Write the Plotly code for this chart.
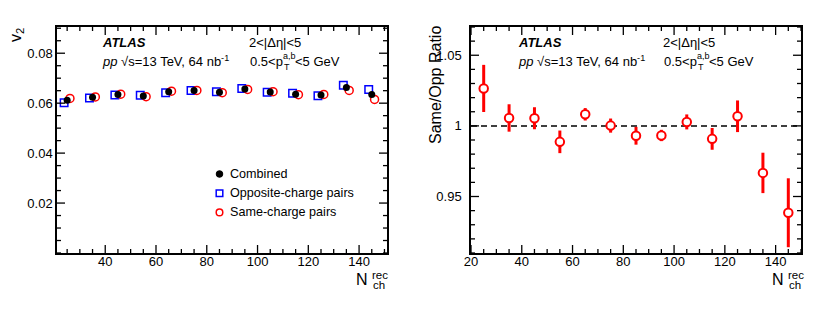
import plotly.graph_objects as go

# ---------------- data ----------------
nch = [25, 35, 45, 55, 65, 75, 85, 95, 105, 115, 125, 135, 145]
v2_combined = [0.0612, 0.0624, 0.0635, 0.0629, 0.0646, 0.0651, 0.0644, 0.0657, 0.0645, 0.0636, 0.0633, 0.0663, 0.0635]
v2_opposite = [0.0602, 0.0621, 0.0633, 0.0632, 0.0642, 0.0651, 0.0646, 0.0659, 0.0644, 0.0640, 0.0630, 0.0672, 0.0655]
v2_same = [0.0619, 0.0625, 0.0636, 0.0626, 0.0648, 0.0651, 0.0642, 0.0655, 0.0646, 0.0634, 0.0635, 0.0651, 0.0615]
ratio = [1.0265, 1.0056, 1.0054, 0.9887, 1.0082, 1.0002, 0.9930, 0.9932, 1.0028, 0.9908, 1.0068, 0.9667, 0.9385]
ratio_err = [0.0167, 0.0097, 0.0078, 0.0080, 0.0044, 0.0050, 0.0063, 0.0040, 0.0053, 0.0077, 0.0112, 0.0143, 0.0244]
ratio_ref = 1.0
left_yticks = [0.02, 0.04, 0.06, 0.08]
right_yticks = [0.95, 1.0, 1.05]
right_yticktext = ["0.95", "1", "1.05"]
legend_labels = ["Combined", "Opposite-charge pairs", "Same-charge pairs"]

# axis ranges and tick steps
LX_RANGE, LY_RANGE = [21, 151], [0, 0.0905]
RX_RANGE, RY_RANGE = [20, 150], [0.91, 1.07]
X_MAJOR, X_MINOR = 20, 5
LY_MINOR, RY_MINOR = 0.005, 0.01

# display offsets of the three series inside each bin
OFF_OPP, OFF_SAME = -1.2, 1.1

FONT = "Liberation Sans, Arial, Helvetica, sans-serif"
W, H = 830, 312
L, R, T, B = 57, 801, 27, 253
PANEL_W, PANEL_H = 330, B - T


def px(x):
    return (x - L) / (R - L)


def py(y):
    return (B - y) / (B - T)


def tick_values(lo, hi, step):
    vals = []
    k = int(lo // step)
    while k * step <= hi + 1e-12:
        v = round(k * step, 6)
        if lo - 1e-12 <= v <= hi + 1e-12:
            vals.append(v)
        k += 1
    return vals


fig = go.Figure()

fig.add_shape(type="line", xref="x2 domain", x0=0, x1=1, yref="y2", y0=ratio_ref, y1=ratio_ref,
              line=dict(color="black", width=1.5, dash="6px,4px"), layer="below")

fig.add_trace(go.Scatter(
    x=[n + OFF_OPP for n in nch], y=v2_opposite, mode="markers",
    marker=dict(symbol="square-open", size=7.5, color="#0000ff", line=dict(width=1.5, color="#0000ff")),
    xaxis="x", yaxis="y", showlegend=False))
fig.add_trace(go.Scatter(
    x=[n + OFF_SAME for n in nch], y=v2_same, mode="markers",
    marker=dict(symbol="circle-open", size=8, color="#ff0000", line=dict(width=1.5, color="#ff0000")),
    xaxis="x", yaxis="y", showlegend=False))
fig.add_trace(go.Scatter(
    x=nch, y=v2_combined, mode="markers",
    marker=dict(symbol="circle", size=7, color="black"),
    xaxis="x", yaxis="y", showlegend=False))

fig.add_trace(go.Scatter(
    x=nch, y=ratio, mode="markers",
    error_y=dict(type="data", array=ratio_err, visible=True, color="#ff0000", thickness=3, width=0),
    marker=dict(symbol="circle", size=8.5, color="white", line=dict(width=2, color="#ff0000")),
    xaxis="x2", yaxis="y2", showlegend=False))

# ---- ROOT-style inside ticks on all four sides, as line traces on each panel's axes ----
TICK_MAJ, TICK_MIN = 8, 4


def tick_trace(xa, ya, xr, yr, x_major, x_minor, y_majors, y_minor):
    xpp = (xr[1] - xr[0]) / PANEL_W   # data units per pixel
    ypp = (yr[1] - yr[0]) / PANEL_H
    xs, ys = [], []
    for v in tick_values(xr[0], xr[1], x_minor):
        ln = TICK_MAJ if abs(v / x_major - round(v / x_major)) < 1e-9 else TICK_MIN
        xs += [v, v, None, v, v, None]
        ys += [yr[0], yr[0] + ln * ypp, None, yr[1], yr[1] - ln * ypp, None]
    for v in tick_values(yr[0], yr[1], y_minor):
        ln = TICK_MAJ if any(abs(v - m) < 1e-9 for m in y_majors) else TICK_MIN
        xs += [xr[0], xr[0] + ln * xpp, None, xr[1], xr[1] - ln * xpp, None]
        ys += [v, v, None, v, v, None]
    fig.add_trace(go.Scatter(x=xs, y=ys, mode="lines", line=dict(color="black", width=1.3),
                             xaxis=xa, yaxis=ya, showlegend=False, hoverinfo="skip"))


tick_trace("x", "y", LX_RANGE, LY_RANGE, X_MAJOR, X_MINOR, left_yticks, LY_MINOR)
tick_trace("x2", "y2", RX_RANGE, RY_RANGE, X_MAJOR, X_MINOR, right_yticks, RY_MINOR)

axis_common = dict(
    showgrid=False, zeroline=False, showline=True, linecolor="black", linewidth=1.5,
    mirror=True, ticks="", tickfont=dict(family=FONT, size=13, color="black"), automargin=False,
)

L_dom = [0, (387 - L) / (R - L)]
R_dom = [(471 - L) / (R - L), 1]

fig.update_layout(
    template="none",
    width=W, height=H,
    margin=dict(l=L, r=W - R, t=T, b=H - B, pad=0),
    paper_bgcolor="white", plot_bgcolor="white",
    font=dict(family=FONT, color="black"),
    xaxis=dict(domain=L_dom, range=LX_RANGE, anchor="y", tickmode="linear", tick0=0, dtick=X_MAJOR,
               ticklabelstandoff=-4, **axis_common),
    yaxis=dict(domain=[0, 1], range=LY_RANGE, anchor="x", tickmode="array", tickvals=left_yticks,
               ticktext=[f"{v:.2f}" for v in left_yticks], **axis_common),
    xaxis2=dict(domain=R_dom, range=RX_RANGE, anchor="y2", tickmode="linear", tick0=0, dtick=X_MAJOR,
                ticklabelstandoff=-4, **axis_common),
    yaxis2=dict(domain=[0, 1], range=RY_RANGE, anchor="x2", tickmode="array", tickvals=right_yticks,
                ticktext=right_yticktext, ticklabelstandoff=5, **axis_common),
)

anns = []


def ann(text, x, y, size=13, xanchor="left", angle=0):
    anns.append(dict(text=text, x=px(x), y=py(y), xref="paper", yref="paper",
                     xanchor=xanchor, yanchor="middle", showarrow=False, textangle=angle,
                     font=dict(family=FONT, size=size, color="black")))


for x0 in (L, 471):
    dl = x0 - L + (2 if x0 != L else 0)   # left-block offset
    dr = x0 - L                           # right-block offset
    ann("<b><i>ATLAS</i></b>", 100 + dl, 42.7)
    ann("<i>pp</i> √s=13 TeV, 64 nb<sup>-1</sup>", 100 + dl, 61.5)
    ann("2<|Δη|<5", 247 + dr, 42.7)
    ann("0.5<p", 248 + dr, 61.5)
    ann("a,b", 281 + dr, 56, size=9)
    ann("T", 281.5 + dr, 66.5, size=9)
    ann("<5 GeV", 293 + dr, 61.5)

# axis titles
ann("v<sub>2</sub>", 16, 35, size=16, xanchor="center", angle=-90)
ann("Same/Opp Ratio", 435, 85, size=16, xanchor="center", angle=-90)
for xr in (370, 786):
    ann("N", xr, 279.5, size=16, xanchor="right")
    ann("rec", xr, 274.5, size=11.5)
    ann("ch", xr + 0.5, 284.5, size=11.5)

# legend (manual)
leg_x, leg_y0, leg_dy = 219.5, 174, 19.2
for i, lab in enumerate(legend_labels):
    ann(lab, 227.5, leg_y0 + i * leg_dy, size=12.6)

fig.update_layout(annotations=anns)

# legend symbols
r = 3.3
fig.add_shape(type="circle", xref="paper", yref="paper", xsizemode="pixel", ysizemode="pixel",
              xanchor=px(leg_x), yanchor=py(leg_y0), x0=-r, x1=r, y0=-r, y1=r,
              fillcolor="black", line=dict(color="black", width=1))
fig.add_shape(type="rect", xref="paper", yref="paper", xsizemode="pixel", ysizemode="pixel",
              xanchor=px(leg_x), yanchor=py(leg_y0 + leg_dy), x0=-3.3, x1=3.3, y0=-3.3, y1=3.3,
              line=dict(color="#0000ff", width=1.5))
fig.add_shape(type="circle", xref="paper", yref="paper", xsizemode="pixel", ysizemode="pixel",
              xanchor=px(leg_x), yanchor=py(leg_y0 + 2 * leg_dy), x0=-r, x1=r, y0=-r, y1=r,
              line=dict(color="#ff0000", width=1.5))

fig.write_html("out.html", config={"displayModeBar": False},
               post_script="document.body.style.margin='0';")
